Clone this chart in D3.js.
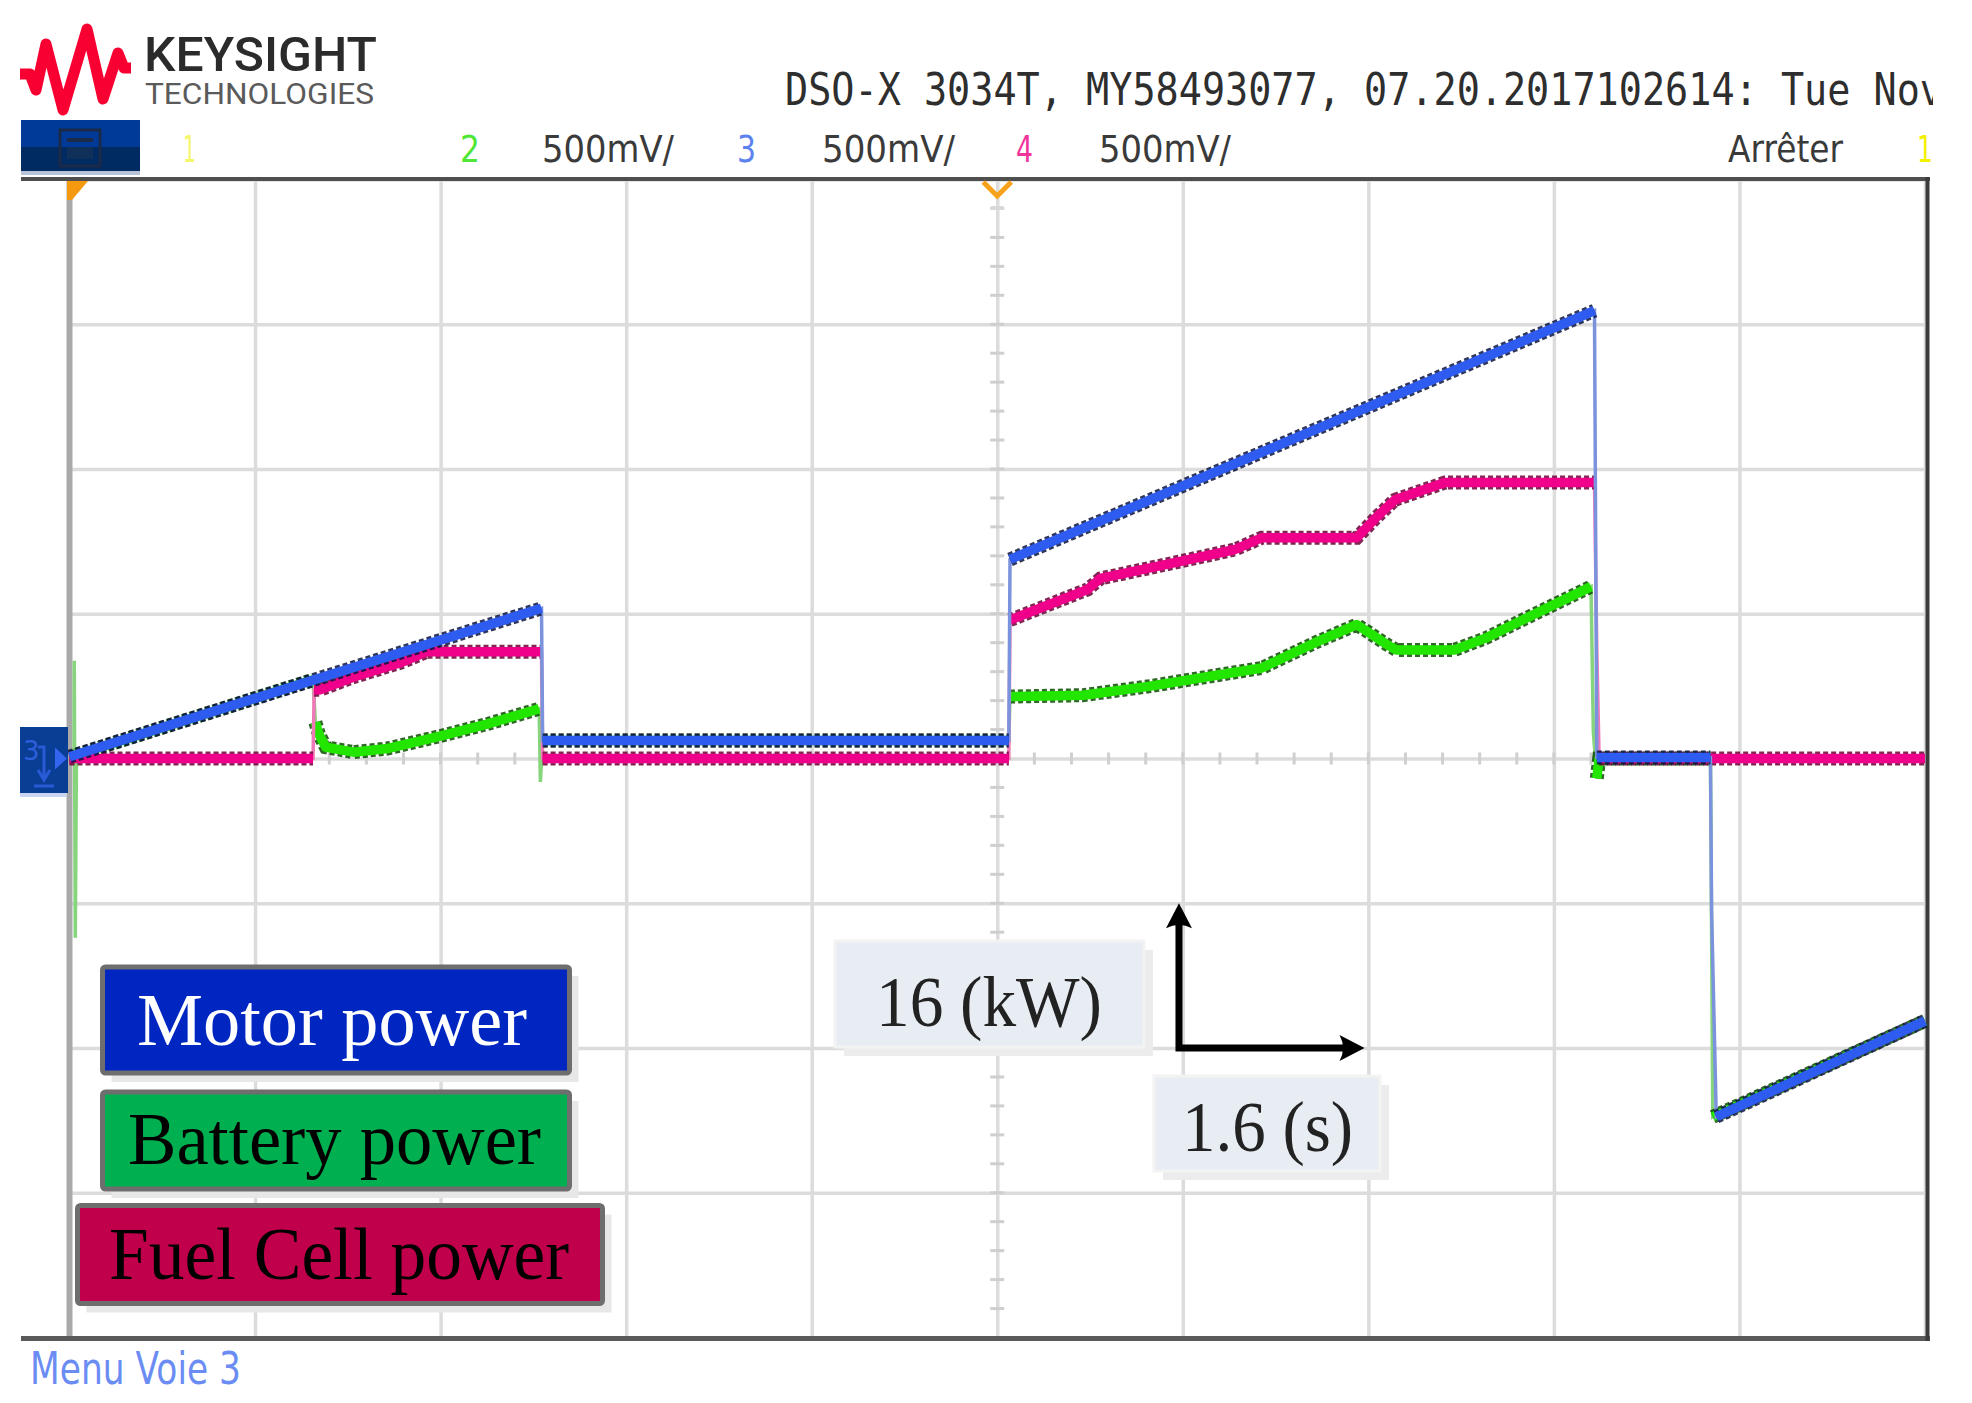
<!DOCTYPE html>
<html><head><meta charset="utf-8">
<script src="https://cdn.jsdelivr.net/npm/d3@7/dist/d3.min.js"></script>
<style>html,body{margin:0;padding:0;background:#fff;}svg{display:block;}</style>
</head><body>
<script>
// ---------------- DATA ----------------
const timeTicks = [0, 1.6, 3.2, 4.8, 6.4, 8.0, 9.6, 11.2, 12.8, 14.4, 16.0];   // s (1.6 s / div)
const powerTicks = [-64, -48, -32, -16, 0, 16, 32, 48, 64];                      // kW (16 kW / div)

// Motor power [t (s), P (kW)]
const motorPts = [[0,0.2],[4.07,16.6],[4.08,2.0],[8.10,2.0],[8.11,22.0],[13.15,49.5],
  [13.17,0.1],[14.15,0.1],[14.16,-17.0],[14.20,-39.6],[16.0,-29.0]];
// Fuel cell power
const fcPts = [[0,0],[2.10,0],[2.11,7.6],[2.16,7.6],[2.45,9.0],[2.88,10.7],[3.08,11.8],[4.07,11.8],
  [4.08,0],[8.10,0],[8.11,15.3],[8.78,18.7],[8.89,19.9],[9.51,21.6],[10.05,23.1],[10.28,24.4],
  [11.10,24.4],[11.28,26.8],[11.43,28.6],[11.86,30.5],[13.15,30.5],[13.17,12.0],[13.19,0],[16.0,0]];
// Battery power
const batPts = [[0,0.2],[0.04,0.2],[0.041,10.8],[0.05,-19.8],[0.06,0.4],[2.10,8.7],[2.12,4.0],
  [2.15,2.7],[2.21,1.25],[2.45,0.7],[2.74,1.1],[3.17,2.4],[3.60,3.8],[4.05,5.5],[4.06,-2.6],
  [4.08,2.0],[8.10,2.0],[8.11,6.85],[8.74,7.0],[9.32,8.0],[9.89,9.2],[10.28,10.0],[10.74,12.8],
  [11.10,14.8],[11.36,12.6],[11.44,12.0],[11.94,12.0],[12.21,13.3],[12.59,15.7],[13.12,19.0],
  [13.14,3.0],[13.17,-2.2],[13.19,0],[14.15,0],[14.17,-39.6],[16.0,-29.0]];

const legendLabels = ["Motor power", "Battery power", "Fuel Cell power"];
const scaleLabels = ["16 (kW)", "1.6 (s)"];
const headerText = "DSO-X 3034T, MY58493077, 07.20.2017102614: Tue Nov";

// ---------------- SETUP ----------------
const W = 1972, H = 1403;
const svg = d3.select("body").append("svg").attr("width", W).attr("height", H)
  .style("font-family", "'DejaVu Sans', sans-serif");

const x = d3.scaleLinear().domain([0, 16]).range([69.5, 1925]);
const y = d3.scaleLinear().domain([-64, 64]).range([1337.5, 179.5]);
const plotH = y(-64) - y(64);

// ---------------- GRID ----------------
const gx = svg.append("g").attr("transform", `translate(0,${y(-64)})`)
  .call(d3.axisBottom(x).tickValues(timeTicks).tickSize(-plotH).tickFormat(""));
gx.select(".domain").remove();
gx.selectAll("line").attr("stroke", "#dcdcdc").attr("stroke-width", 3.5);

const gy = svg.append("g").attr("transform", `translate(${x(0)},0)`)
  .call(d3.axisLeft(y).tickValues(powerTicks).tickSize(-(x(16) - x(0))).tickFormat(""));
gy.select(".domain").remove();
gy.selectAll("line").attr("stroke", "#dcdcdc").attr("stroke-width", 3.5);

// minor ticks on center lines
svg.append("g").selectAll("line").data(d3.range(0.32, 16, 0.32)).join("line")
  .attr("x1", d => x(d)).attr("x2", d => x(d)).attr("y1", y(0) - 6).attr("y2", y(0) + 6)
  .attr("stroke", "#cfcfcf").attr("stroke-width", 3);
svg.append("g").selectAll("line").data(d3.range(-60.8, 64, 3.2)).join("line")
  .attr("x1", x(8) - 7).attr("x2", x(8) + 7).attr("y1", d => y(d)).attr("y2", d => y(d))
  .attr("stroke", "#cfcfcf").attr("stroke-width", 3);

// borders
svg.append("line").attr("x1", x(0)).attr("x2", x(0)).attr("y1", 180).attr("y2", 1339)
  .attr("stroke", "#a9a9a9").attr("stroke-width", 6);
svg.append("line").attr("x1", 21).attr("x2", 1930).attr("y1", 179).attr("y2", 179)
  .attr("stroke", "#4f4f4f").attr("stroke-width", 4);
svg.append("line").attr("x1", 21).attr("x2", 1930).attr("y1", 1338.5).attr("y2", 1338.5)
  .attr("stroke", "#5a5a5a").attr("stroke-width", 5);
svg.append("line").attr("x1", 1927.5).attr("x2", 1927.5).attr("y1", 177).attr("y2", 1341)
  .attr("stroke", "#3c3c3c").attr("stroke-width", 4);

// ---------------- TRACES ----------------
const line = d3.line().x(d => x(d[0])).y(d => y(d[1]));
function runs(pts) {
  const out = []; let cur = [pts[0]];
  for (let i = 1; i < pts.length; i++) {
    const a = pts[i - 1], b = pts[i];
    const dt = b[0] - a[0], slope = dt === 0 ? Infinity : Math.abs((b[1] - a[1]) / dt);
    if (slope > 150) { if (cur.length > 1) out.push(cur); cur = [b]; }
    else cur.push(b);
  }
  if (cur.length > 1) out.push(cur);
  return out;
}
function drawTrace(pts, color, dark, light) {
  const g = svg.append("g");
  g.append("path").attr("d", line(pts)).attr("fill", "none")
    .attr("stroke", light).attr("stroke-width", 3.5);
  runs(pts).forEach(r => {
    g.append("path").attr("d", line(r)).attr("fill", "none").attr("stroke", dark)
      .attr("stroke-width", 14).attr("stroke-dasharray", "5 3").attr("opacity", 0.85);
    g.append("path").attr("d", line(r)).attr("fill", "none").attr("stroke", color)
      .attr("stroke-width", 9.5).attr("stroke-linejoin", "round");
  });
}
drawTrace(batPts, "#22e600", "#0b4d00", "#86d47c");
drawTrace(fcPts, "#f0008a", "#6a0035", "#f07ab8");
drawTrace(motorPts, "#2f5cf0", "#0a1440", "#7b93dd");

// ---------------- MARKERS ----------------
svg.append("polygon").attr("points", "67,181 88,181 72,200 67,200").attr("fill", "#f59a10");
svg.append("polyline").attr("points", `${x(8)-14},182 ${x(8)},196 ${x(8)+14},182`)
  .attr("fill", "none").attr("stroke", "#f7a21c").attr("stroke-width", 5);
svg.append("line").attr("x1", x(8) - 6).attr("x2", x(8) + 6).attr("y1", 208).attr("y2", 208)
  .attr("stroke", "#d8d8d8").attr("stroke-width", 4);

// channel 3 ground marker
const gm = svg.append("g");
gm.append("rect").attr("x", 20).attr("y", 727).attr("width", 48).attr("height", 66).attr("fill", "#0a3d94");
gm.append("rect").attr("x", 20).attr("y", 793).attr("width", 46).attr("height", 4).attr("fill", "#c9d5f3");
gm.append("text").attr("x", 23).attr("y", 760).attr("font-size", 26).attr("fill", "#2d5fdc").text("3");
gm.append("path").attr("d", "M38,747 L44,747 L44,778 M38,770 L44,780 L50,770 M34,786 L54,786")
  .attr("fill", "none").attr("stroke", "#2a5bd6").attr("stroke-width", 3);
gm.append("polygon").attr("points", `55,${y(0)-11} 67,${y(0)} 55,${y(0)+11}`).attr("fill", "#3366ee");

// ---------------- LEGEND ----------------
const legendBoxes = [
  {x: 102.5, y: 967, w: 467, h: 106, fill: "#0026c2", tc: "#ffffff", tx: 137, ty: 1045, tl: 390},
  {x: 102.5, y: 1092, w: 467, h: 97, fill: "#00b050", tc: "#000000", tx: 128, ty: 1164, tl: 413},
  {x: 77.5, y: 1205.5, w: 525, h: 98, fill: "#c0004a", tc: "#000000", tx: 109, ty: 1279, tl: 460}
];
legendBoxes.forEach((b, i) => {
  svg.append("rect").attr("x", b.x + 9).attr("y", b.y + 9).attr("width", b.w).attr("height", b.h)
    .attr("fill", "#e7e7e7");
  svg.append("rect").attr("x", b.x).attr("y", b.y).attr("width", b.w).attr("height", b.h)
    .attr("rx", 3).attr("fill", b.fill).attr("stroke", "#6e6e6e").attr("stroke-width", 5);
  svg.append("text").attr("x", b.tx).attr("y", b.ty).attr("fill", b.tc)
    .attr("font-family", "'Liberation Serif', 'Times New Roman', serif").attr("font-size", 74)
    .attr("textLength", b.tl).attr("lengthAdjust", "spacingAndGlyphs").text(legendLabels[i]);
});

// ---------------- SCALE BAR ----------------
const sbT = 9.567, sbP = -32;
const ann = [
  {x: 835, y: 941, w: 309, h: 106, tx: 876, ty: 1026, tl: 226},
  {x: 1154, y: 1076, w: 226, h: 95, tx: 1182, ty: 1151, tl: 171}
];
ann.forEach((a, i) => {
  svg.append("rect").attr("x", a.x + 9).attr("y", a.y + 9).attr("width", a.w).attr("height", a.h)
    .attr("fill", "#ececec");
  svg.append("rect").attr("x", a.x).attr("y", a.y).attr("width", a.w).attr("height", a.h)
    .attr("fill", "#e8edf3").attr("stroke", "#f3f3f3").attr("stroke-width", 3);
  svg.append("text").attr("x", a.tx).attr("y", a.ty).attr("fill", "#222")
    .attr("font-family", "'Liberation Serif', 'Times New Roman', serif").attr("font-size", 72)
    .attr("textLength", a.tl).attr("lengthAdjust", "spacingAndGlyphs").text(scaleLabels[i]);
});
const cx = x(sbT), cy = y(sbP), topY = y(sbP + 16), rightX = x(sbT + 1.6);
svg.append("path").attr("d", `M${cx},${topY + 20} L${cx},${cy} L${rightX - 20},${cy}`)
  .attr("fill", "none").attr("stroke", "#000").attr("stroke-width", 7).attr("stroke-linejoin", "miter");
svg.append("path").attr("d", `M${cx},${topY} L${cx + 13},${topY + 25} Q${cx},${topY + 18} ${cx - 13},${topY + 25} Z`)
  .attr("fill", "#000");
svg.append("path").attr("d", `M${rightX},${cy} L${rightX - 25},${cy + 13} Q${rightX - 18},${cy} ${rightX - 25},${cy - 13} Z`)
  .attr("fill", "#000");

// ---------------- HEADER ----------------
svg.append("polyline")
  .attr("points", "20,74 30,74 36,90 46,44 63,110 87,29 103,99 118,53 124,68 131,68")
  .attr("fill", "none").attr("stroke", "#f80032").attr("stroke-width", 11).attr("stroke-linejoin", "round");
svg.append("text").attr("x", 144).attr("y", 71).attr("font-family", "Roboto, sans-serif")
  .attr("font-weight", 500).attr("font-size", 48).attr("fill", "#2b2b2b")
  .attr("textLength", 233).attr("lengthAdjust", "spacingAndGlyphs").text("KEYSIGHT");
svg.append("text").attr("x", 145).attr("y", 104).attr("font-family", "Roboto, sans-serif")
  .attr("font-size", 29).attr("fill", "#5a5a5a")
  .attr("textLength", 229).attr("lengthAdjust", "spacingAndGlyphs").text("TECHNOLOGIES");

svg.append("defs").append("clipPath").attr("id", "hclip").append("rect")
  .attr("x", 0).attr("y", 0).attr("width", 1933).attr("height", 178);
const hdr = svg.append("g").attr("clip-path", "url(#hclip)");
hdr.append("text").attr("x", 785).attr("y", 105).attr("font-family", "'DejaVu Sans Mono', monospace")
  .attr("font-size", 44).attr("fill", "#2e2e2e")
  .attr("textLength", 1158).attr("lengthAdjust", "spacingAndGlyphs").text(headerText);

// menu button
hdr.append("rect").attr("x", 21).attr("y", 120).attr("width", 119).attr("height", 27).attr("fill", "#003a98");
hdr.append("rect").attr("x", 21).attr("y", 147).attr("width", 119).attr("height", 26).attr("fill", "#002a62");
hdr.append("rect").attr("x", 21).attr("y", 171).attr("width", 119).attr("height", 4).attr("fill", "#b9c4d8");
hdr.append("rect").attr("x", 60).attr("y", 130).attr("width", 40).attr("height", 36)
  .attr("fill", "none").attr("stroke", "#1b2a48").attr("stroke-width", 3);
hdr.append("rect").attr("x", 67).attr("y", 138).attr("width", 26).attr("height", 4).attr("fill", "#1b2a48");
hdr.append("rect").attr("x", 67).attr("y", 147).attr("width", 26).attr("height", 12).attr("fill", "#10305a");

const chanItems = [
  {t: "1", x: 183, w: 13, c: "#f6f66a"},
  {t: "2", x: 460, w: 20, c: "#4fe637"},
  {t: "500mV/", x: 542, w: 132, c: "#3a3a3a"},
  {t: "3", x: 737, w: 19, c: "#5b82ef"},
  {t: "500mV/", x: 822, w: 133, c: "#3a3a3a"},
  {t: "4", x: 1016, w: 17, c: "#f0359a"},
  {t: "500mV/", x: 1099, w: 132, c: "#3a3a3a"},
  {t: "Arrêter", x: 1728, w: 115, c: "#3a3a3a"},
  {t: "1", x: 1917, w: 16, c: "#f2f200"}
];
chanItems.forEach(d => {
  hdr.append("text").attr("x", d.x).attr("y", 162).attr("font-size", 38).attr("fill", d.c)
    .attr("textLength", d.w).attr("lengthAdjust", "spacingAndGlyphs").text(d.t);
});

// footer
svg.append("text").attr("x", 30).attr("y", 1384).attr("font-size", 44).attr("fill", "#6a8cf3")
  .attr("textLength", 211).attr("lengthAdjust", "spacingAndGlyphs").text("Menu Voie 3");
</script>
</body></html>
